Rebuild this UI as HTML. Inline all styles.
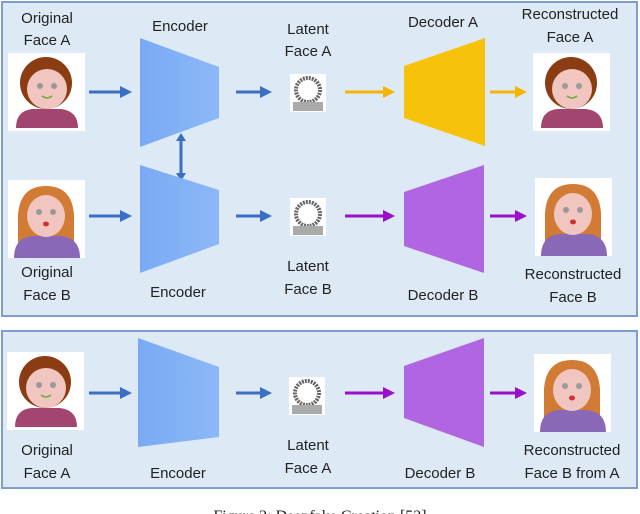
<!DOCTYPE html>
<html><head><meta charset="utf-8"><style>
html,body{margin:0;padding:0;background:#fff;width:640px;height:514px;overflow:hidden}
svg{display:block}
text{font-family:"Liberation Sans",sans-serif;font-size:15px;fill:#222;text-anchor:middle}
</style></head><body>
<svg width="640" height="514" viewBox="0 0 640 514">
<defs>
<g id="boy">
<rect x="0" y="0" width="77" height="78" fill="#fff"/>
<path d="M8 75 Q8 58 24 56 L53 56 Q70 58 70 75 Z" fill="#a3466f"/>
<circle cx="38" cy="30" r="26" fill="#8b3c12"/>
<circle cx="39" cy="36" r="20" fill="#f2c6c0"/>
<circle cx="32" cy="33" r="3" fill="#999"/><circle cx="46" cy="33" r="3" fill="#999"/>
<path d="M34 43 Q39 47 44 43" stroke="#7a4" stroke-width="1.5" fill="none"/>
</g>
<g id="girl">
<rect x="0" y="0" width="77" height="78" fill="#fff"/>
<path d="M10 70 L10 35 Q12 6 38 6 Q64 6 66 35 L66 70 Z" fill="#d27b34"/>
<path d="M6 78 Q6 58 24 56 L53 56 Q72 58 72 78 Z" fill="#8a68b8"/>
<ellipse cx="38" cy="36" rx="19" ry="21" fill="#f2c6c0"/>
<circle cx="31" cy="32" r="3" fill="#999"/><circle cx="45" cy="32" r="3" fill="#999"/>
<ellipse cx="38" cy="44" rx="3" ry="2.5" fill="#c33"/>
</g>
<g id="latent">
<rect x="0" y="0" width="36" height="38" fill="#fff"/>
<circle cx="18" cy="16" r="12" fill="none" stroke="#666" stroke-width="4" stroke-dasharray="2 1"/>
<rect x="3" y="28" width="30" height="9" fill="#aaa"/>
</g>
<marker id="mb" markerWidth="4" markerHeight="4" refX="2" refY="2" orient="auto"><path d="M0,0 L4,2 L0,4 Z" fill="#3a6fc4"/></marker>
<marker id="my" markerWidth="4" markerHeight="4" refX="2" refY="2" orient="auto"><path d="M0,0 L4,2 L0,4 Z" fill="#f5b400"/></marker>
<marker id="mp" markerWidth="4" markerHeight="4" refX="2" refY="2" orient="auto"><path d="M0,0 L4,2 L0,4 Z" fill="#9a10c8"/></marker>
<linearGradient id="gb" x1="0" x2="1"><stop offset="0" stop-color="#7aaaf5"/><stop offset="1" stop-color="#8cb8f7"/></linearGradient>
</defs>
<rect x="2" y="2" width="635" height="314" fill="#dde9f5" stroke="#7f9dcc" stroke-width="2"/>
<rect x="2" y="331" width="635" height="157" fill="#dde9f5" stroke="#7f9dcc" stroke-width="2"/>

<!-- top row A -->
<text x="47" y="23">Original</text><text x="47" y="45">Face A</text>
<use href="#boy" x="8" y="53"/>
<line x1="89" y1="92" x2="126" y2="92" stroke="#3a6fc4" stroke-width="3" marker-end="url(#mb)"/>
<text x="180" y="31">Encoder</text>
<polygon points="140,38 219,67 219,118 140,147" fill="url(#gb)"/>
<line x1="236" y1="92" x2="266" y2="92" stroke="#3a6fc4" stroke-width="3" marker-end="url(#mb)"/>
<text x="308" y="34">Latent</text><text x="308" y="56">Face A</text>
<use href="#latent" x="290" y="74"/>
<line x1="345" y1="92" x2="389" y2="92" stroke="#f5b400" stroke-width="3" marker-end="url(#my)"/>
<text x="443" y="27">Decoder A</text>
<polygon points="404,66 485,38 485,146 404,118" fill="#f7c20a"/>
<line x1="490" y1="92" x2="521" y2="92" stroke="#f5b400" stroke-width="3" marker-end="url(#my)"/>
<text x="570" y="19">Reconstructed</text><text x="570" y="42">Face A</text>
<use href="#boy" x="533" y="53"/>
<!-- double arrow -->
<line x1="181" y1="140" x2="181" y2="174" stroke="#3a6fc4" stroke-width="3"/>
<polygon points="181,133 176,141 186,141" fill="#3a6fc4"/><polygon points="181,181 176,173 186,173" fill="#3a6fc4"/>

<!-- top row B -->
<use href="#girl" x="8" y="180"/>
<text x="47" y="277">Original</text><text x="47" y="300">Face B</text>
<line x1="89" y1="216" x2="126" y2="216" stroke="#3a6fc4" stroke-width="3" marker-end="url(#mb)"/>
<polygon points="140,165 219,190 219,244 140,273" fill="url(#gb)"/>
<text x="178" y="297">Encoder</text>
<line x1="236" y1="216" x2="266" y2="216" stroke="#3a6fc4" stroke-width="3" marker-end="url(#mb)"/>
<use href="#latent" x="290" y="198"/>
<text x="308" y="271">Latent</text><text x="308" y="294">Face B</text>
<line x1="345" y1="216" x2="389" y2="216" stroke="#9a10c8" stroke-width="3" marker-end="url(#mp)"/>
<polygon points="404,192 484,165 484,273 404,246" fill="#b066e2"/>
<text x="443" y="300">Decoder B</text>
<line x1="490" y1="216" x2="521" y2="216" stroke="#9a10c8" stroke-width="3" marker-end="url(#mp)"/>
<use href="#girl" x="535" y="178"/>
<text x="573" y="279">Reconstructed</text><text x="573" y="302">Face B</text>

<!-- bottom -->
<use href="#boy" x="7" y="352"/>
<text x="47" y="455">Original</text><text x="47" y="478">Face A</text>
<line x1="89" y1="393" x2="126" y2="393" stroke="#3a6fc4" stroke-width="3" marker-end="url(#mb)"/>
<polygon points="138,338 219,367 219,437 138,447" fill="url(#gb)"/>
<text x="178" y="478">Encoder</text>
<line x1="236" y1="393" x2="266" y2="393" stroke="#3a6fc4" stroke-width="3" marker-end="url(#mb)"/>
<use href="#latent" x="289" y="377"/>
<text x="308" y="450">Latent</text><text x="308" y="473">Face A</text>
<line x1="345" y1="393" x2="389" y2="393" stroke="#9a10c8" stroke-width="3" marker-end="url(#mp)"/>
<polygon points="404,366 484,338 484,447 404,418" fill="#b066e2"/>
<text x="440" y="478">Decoder B</text>
<line x1="490" y1="393" x2="521" y2="393" stroke="#9a10c8" stroke-width="3" marker-end="url(#mp)"/>
<use href="#girl" x="534" y="354"/>
<text x="572" y="455">Reconstructed</text><text x="572" y="478">Face B from A</text>

<text x="320" y="521" style="font-family:'Liberation Serif',serif;font-size:16px">Figure 2: Deepfake Creation [52]</text>
</svg>
</body></html>
